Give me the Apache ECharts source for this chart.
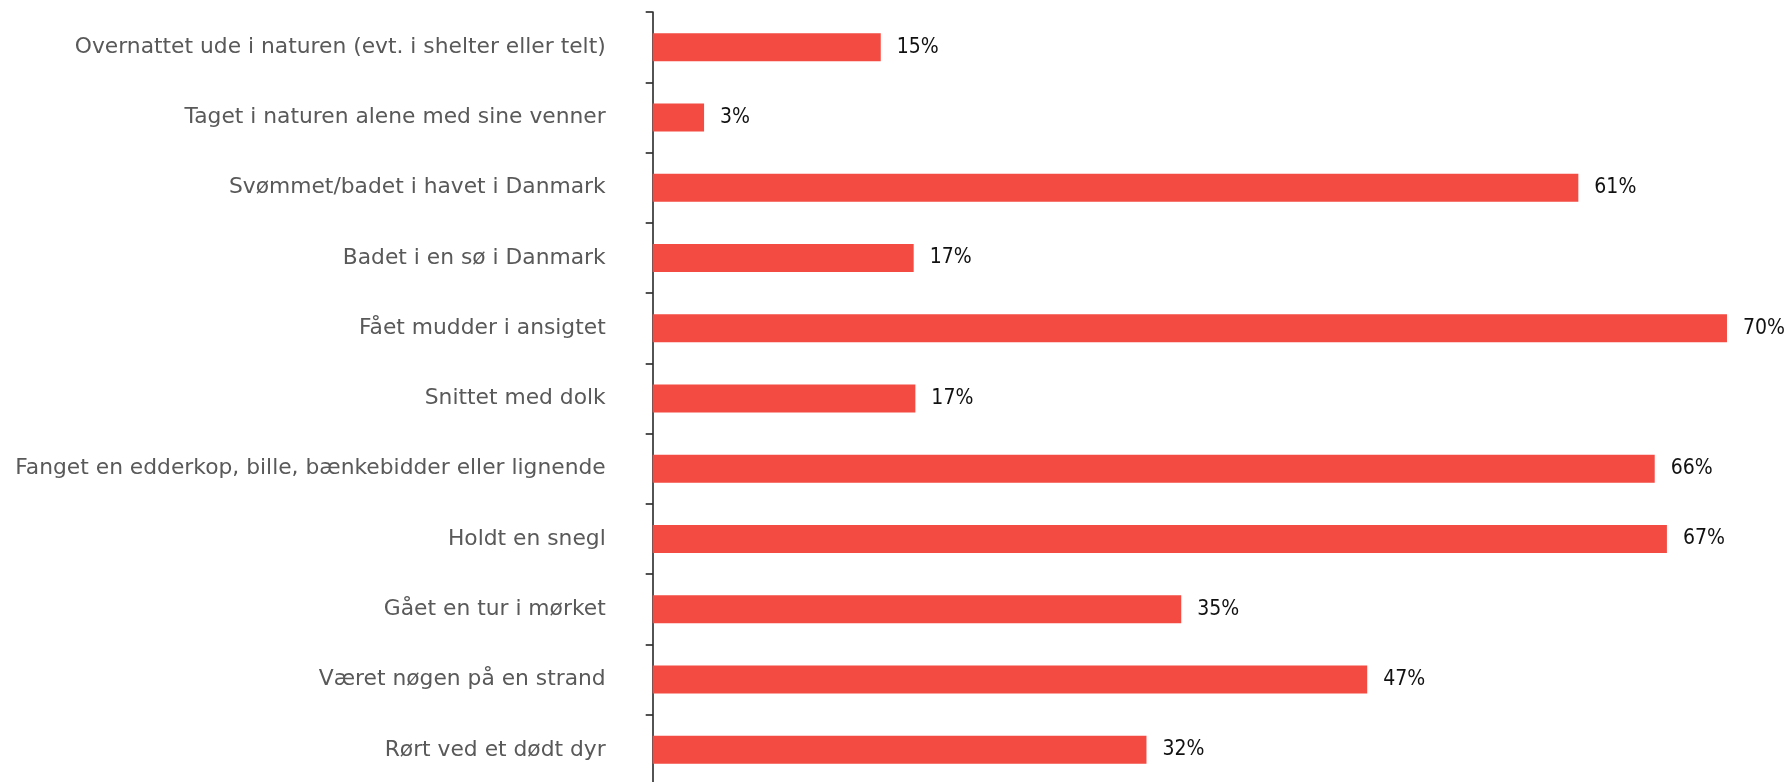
<!DOCTYPE html>
<html>
<head>
<meta charset="utf-8">
<script src="https://cdn.jsdelivr.net/npm/echarts@6/dist/echarts.min.js"></script>
<style>
  html, body { margin: 0; padding: 0; background: #ffffff; overflow: hidden; }
  #chart { width: 1786px; height: 792px; }
</style>
</head>
<body>
<div id="chart"></div>
<script>
// Categories, top to bottom
const categories = [
  "Overnattet ude i naturen (evt. i shelter eller telt)",
  "Taget i naturen alene med sine venner",
  "Svømmet/badet i havet i Danmark",
  "Badet i en sø i Danmark",
  "Fået mudder i ansigtet",
  "Snittet med dolk",
  "Fanget en edderkop, bille, bænkebidder eller lignende",
  "Holdt en snegl",
  "Gået en tur i mørket",
  "Været nøgen på en strand",
  "Rørt ved et dødt dyr"
];

// Share (%)
const values = [14.96, 3.37, 60.72, 17.12, 70.47, 17.23, 65.73, 66.53, 34.67, 46.87, 32.39];

const xMin = 0;
const xMax = 72;

const chart = echarts.init(document.getElementById('chart'), null, { renderer: 'canvas' });

chart.setOption({
  animation: false,
  backgroundColor: '#ffffff',
  grid: {
    left: 652.7,
    top: 12,
    width: 1097.6,
    height: 773,
    containLabel: false
  },
  xAxis: {
    type: 'value',
    min: xMin,
    max: xMax,
    show: false
  },
  yAxis: {
    type: 'category',
    inverse: true,
    data: categories,
    axisLine: { show: true, lineStyle: { color: '#1a1a1a', width: 1.5 } },
    axisTick: { show: true, length: 7, lineStyle: { color: '#1a1a1a', width: 1.5 } },
    axisLabel: {
      margin: 47,
      color: '#595959',
      fontFamily: '"DejaVu Sans", sans-serif',
      fontSize: 21.8
    },
    splitLine: { show: false }
  },
  series: [{
    type: 'bar',
    data: values,
    barWidth: 28,
    itemStyle: { color: '#F34A41' },
    label: {
      show: true,
      position: 'right',
      distance: 16,
      color: '#111111',
      fontFamily: '"DejaVu Sans Condensed", sans-serif',
      fontSize: 21,
      formatter: function (p) { return Math.round(p.value) + '%'; }
    }
  }]
});
</script>
</body>
</html>
